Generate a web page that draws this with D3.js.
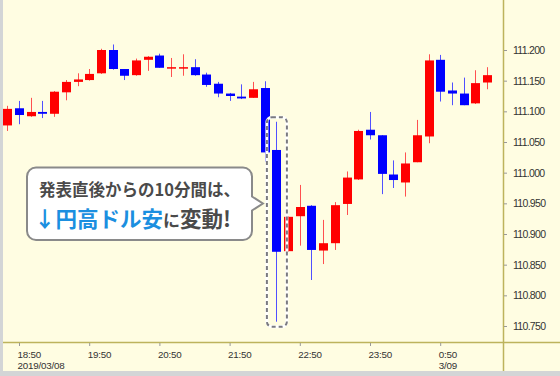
<!DOCTYPE html>
<html>
<head>
<meta charset="utf-8">
<script src="https://cdn.jsdelivr.net/npm/d3@7"></script>
<style>
  body { margin: 0; background: #fff; }
  svg { display: block; }
</style>
</head>
<body>
<svg id="chart"></svg>
<script>
// 10-minute candles, USD/JPY, 2019/03/08 18:40 - 3/09 1:30
const times = ["18:40","18:50","19:00","19:10","19:20","19:30","19:40","19:50","20:00","20:10",
               "20:20","20:30","20:40","20:50","21:00","21:10","21:20","21:30","21:40","21:50",
               "22:00","22:10","22:20","22:30","22:40","22:50","23:00","23:10","23:20","23:30",
               "23:40","23:50","0:00","0:10","0:20","0:30","0:40","0:50","1:00","1:10","1:20","1:30"];
const opens  = [111.077,111.105,111.092,111.099,111.096,111.131,111.148,111.151,111.162,111.200,
                111.169,111.159,111.184,111.191,111.171,111.171,111.172,111.160,111.145,111.129,
                111.124,111.122,111.138,111.037,110.872,110.929,110.946,110.873,110.885,110.949,
                110.989,111.070,111.061,110.997,110.984,111.017,111.059,111.184,111.134,111.129,111.113,111.147];
const highs  = [111.109,111.117,111.122,111.117,111.133,111.151,111.162,111.169,111.202,111.209,
                111.169,111.186,111.190,111.194,111.187,111.193,111.185,111.163,111.148,111.130,
                111.144,111.148,111.149,111.083,110.929,110.980,110.947,110.923,110.952,111.002,
                111.070,111.099,111.061,111.020,111.033,111.086,111.193,111.192,111.147,111.155,111.167,111.172];
const lows   = [111.068,111.079,111.091,111.089,111.091,111.118,111.141,111.150,111.161,111.168,
                111.151,111.158,111.166,111.171,111.156,111.158,111.158,111.140,111.123,111.117,
                111.120,111.122,111.018,110.757,110.871,110.881,110.825,110.851,110.874,110.931,
                110.988,111.054,110.965,110.975,110.961,111.017,111.048,111.116,111.110,111.110,111.112,111.136];
const closes = [111.104,111.094,111.099,111.096,111.132,111.148,111.152,111.161,111.200,111.169,
                111.158,111.183,111.189,111.171,111.172,111.172,111.159,111.143,111.129,111.125,
                111.121,111.136,111.033,110.871,110.928,110.944,110.874,110.885,110.947,110.992,
                111.068,111.061,110.998,110.988,111.015,111.061,111.183,111.132,111.129,111.110,111.146,111.159];

const yTicks = [111.200,111.150,111.100,111.050,111.000,110.950,110.900,110.850,110.800,110.750];
const xTickTimes = ["18:50","19:50","20:50","21:50","22:50","23:50","0:50"];
const xTickDates = ["2019/03/08","","","","","","3/09"];

const calloutLine1 = "発表直後からの10分間は、";
const calloutLine2 = [
    { t: "↓円高ドル安", c: "#1b8fe0", s: 21.5 },
    { t: "に", c: "#4a4a4a", s: 17 },
    { t: "変動!", c: "#4a4a4a", s: 21.5 }
];

// "18:40" -> Date (times after midnight belong to 3/09)
const parseT = s => {
    const [h, m] = s.split(":").map(Number);
    return new Date(2019, 2, h < 12 ? 9 : 8, h, m);
};

const data = times.map((t, i) => ({
    time: parseT(t), open: opens[i], high: highs[i], low: lows[i], close: closes[i]
}));

const W = 560, H = 376;
const svg = d3.select("#chart").attr("width", W).attr("height", H);

// frame + plot background
svg.append("rect").attr("width", W).attr("height", H).attr("fill", "#d3d5d6");
svg.append("rect").attr("x", 3).attr("y", 0).attr("width", W - 3).attr("height", 371)
    .attr("fill", "#fffde2");

const x = d3.scaleTime()
    .domain([parseT("18:50"), parseT("0:50")])
    .range([19, 440.2]);

const y = d3.scaleLinear()
    .domain([110.75, 111.2])
    .range([326, 50]);

const axisColor = "#bdb35c";
const fontAxis = "'Liberation Sans', Arial, sans-serif";

// candles
const bodyW = 9;
const up = d => d.close >= d.open;

svg.append("g").selectAll("line")
    .data(data).enter().append("line")
    .attr("x1", d => Math.round(x(d.time)) + 0.5)
    .attr("x2", d => Math.round(x(d.time)) + 0.5)
    .attr("y1", d => y(d.high))
    .attr("y2", d => y(d.low))
    .attr("stroke", d => up(d) ? "#ff5050" : "#5050ff")
    .attr("stroke-width", 1);

svg.append("g").selectAll("rect")
    .data(data).enter().append("rect")
    .attr("x", d => Math.round(x(d.time)) + 0.5 - bodyW / 2)
    .attr("y", d => y(Math.max(d.open, d.close)))
    .attr("width", bodyW)
    .attr("height", d => Math.max(1.5, Math.abs(y(d.open) - y(d.close))))
    .attr("fill", d => up(d) ? "#ff0000" : "#0000ff");

// axes
svg.append("line").attr("x1", 503.5).attr("x2", 503.5).attr("y1", 0).attr("y2", 371)
    .attr("stroke", axisColor).attr("stroke-width", 1.5);
svg.append("line").attr("x1", 3).attr("x2", W).attr("y1", 342.5).attr("y2", 342.5)
    .attr("stroke", axisColor).attr("stroke-width", 1.5);

const yAxis = svg.append("g")
    .attr("transform", "translate(504,0)")
    .call(d3.axisRight(y).tickValues(yTicks).tickSize(3).tickPadding(6)
        .tickFormat(d3.format(".3f")));
yAxis.select(".domain").remove();
yAxis.selectAll("line").attr("stroke", "#999");
yAxis.selectAll("text")
    .style("font-family", fontAxis).style("font-size", "10.5px")
    .style("letter-spacing", "-0.7px").attr("fill", "#333");

const xAxis = svg.append("g")
    .attr("transform", "translate(0,343)")
    .call(d3.axisBottom(x).tickValues(xTickTimes.map(parseT)).tickSize(3).tickFormat(""));
xAxis.select(".domain").remove();
xAxis.selectAll("line").attr("stroke", "#999");

const xLabels = svg.append("g")
    .style("font-family", fontAxis).style("font-size", "9.8px")
    .style("letter-spacing", "-0.2px").attr("fill", "#333");
xLabels.selectAll("text.time")
    .data(xTickTimes).enter().append("text").attr("class", "time")
    .attr("x", d => x(parseT(d)) - 1.5)
    .attr("y", 357.5)
    .text(d => d);
xLabels.selectAll("text.date")
    .data(xTickTimes).enter().append("text").attr("class", "date")
    .attr("x", d => x(parseT(d)) - 1.5)
    .attr("y", 368.5)
    .text((d, i) => xTickDates[i]);

// dashed box around the release candle
const rel = data[23];
const bx0 = x(rel.time) - 9.5, bx1 = x(rel.time) + 10.5;
const by0 = y(rel.high) - 4.5, by1 = y(rel.low) + 5;
svg.append("rect").attr("x", bx0).attr("y", by0).attr("width", bx1 - bx0).attr("height", by1 - by0)
    .attr("rx", 5).attr("fill", "none").attr("stroke", "#fff").attr("stroke-width", 3);
svg.append("rect").attr("x", bx0).attr("y", by0).attr("width", bx1 - bx0).attr("height", by1 - by0)
    .attr("rx", 5).attr("fill", "none").attr("stroke", "#7a7a80").attr("stroke-width", 2)
    .attr("stroke-dasharray", "4,3");

// callout bubble
const cx0 = 27, cx1 = 252, cy0 = 167.5, cy1 = 240, r = 9;
const tipX = bx0 - 4, tipY = 203.5;
const bubble = d3.path();
bubble.moveTo(cx0 + r, cy0);
bubble.lineTo(cx1 - r, cy0);
bubble.arcTo(cx1, cy0, cx1, cy0 + r, r);
bubble.lineTo(cx1, tipY - 7);
bubble.lineTo(tipX, tipY);
bubble.lineTo(cx1, tipY + 7);
bubble.lineTo(cx1, cy1 - r);
bubble.arcTo(cx1, cy1, cx1 - r, cy1, r);
bubble.lineTo(cx0 + r, cy1);
bubble.arcTo(cx0, cy1, cx0, cy1 - r, r);
bubble.lineTo(cx0, cy0 + r);
bubble.arcTo(cx0, cy0, cx0 + r, cy0, r);
bubble.closePath();
svg.append("path").attr("d", bubble.toString())
    .attr("fill", "#fff").attr("stroke", "#8a8a8a").attr("stroke-width", 2);

const fontJP = "'Noto Sans CJK JP', 'Noto Sans', sans-serif";
svg.append("text")
    .attr("x", 39).attr("y", 196)
    .style("font-family", fontJP).style("font-size", "16.5px").style("font-weight", "bold")
    .attr("fill", "#4a4a4a")
    .text(calloutLine1);

const line2 = svg.append("text").attr("x", 34).attr("y", 227)
    .style("font-family", fontJP).style("font-weight", "bold");
line2.selectAll("tspan").data(calloutLine2).enter().append("tspan")
    .attr("fill", d => d.c).style("font-size", d => d.s + "px")
    .text(d => d.t);
</script>
</body>
</html>
